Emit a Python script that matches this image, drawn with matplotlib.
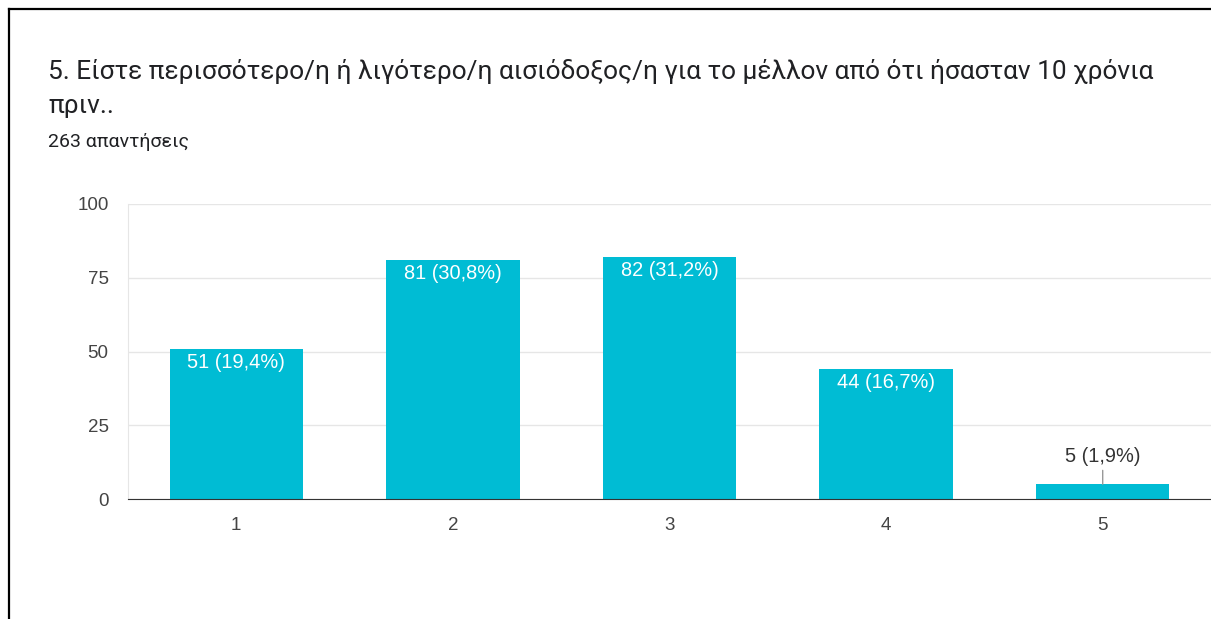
import matplotlib.pyplot as plt
from matplotlib.lines import Line2D

# data
categories = [1, 2, 3, 4, 5]
counts = [51, 81, 82, 44, 5]
total = 263
title_lines = ["5. Είστε περισσότερο/η ή λιγότερο/η αισιόδοξος/η για το μέλλον από ότι ήσασταν 10 χρόνια",
               "πριν.."]
subtitle = f"{total} απαντήσεις"
yticks = [0, 25, 50, 75, 100]

bar_color = "#00bcd4"

W, H = 1211, 619
fig = plt.figure(figsize=(W / 100, H / 100), dpi=100)
fig.patch.set_facecolor("white")

# screenshot frame (left and top edges)
fig.add_artist(Line2D([9 / W, 9 / W], [0, 1 - 9 / H], color="black", lw=1.6,
                      transform=fig.transFigure))
fig.add_artist(Line2D([9 / W, 1], [1 - 9 / H, 1 - 9 / H], color="black", lw=1.6,
                      transform=fig.transFigure))

fig.text(48 / W, 1 - 71 / H, title_lines[0], fontsize=18.9, family=["Roboto", "DejaVu Sans"],
         color="#202124", va="center", ha="left")
fig.text(48 / W, 1 - 106 / H, title_lines[1], fontsize=18.9, family=["Roboto", "DejaVu Sans"],
         color="#202124", va="center", ha="left")
fig.text(48 / W, 1 - 142 / H, subtitle, fontsize=14, family=["Roboto", "DejaVu Sans"],
         color="#202124", va="center", ha="left")

ax = fig.add_axes([128 / W, 120 / H, 1 - 128 / W, 295 / H])
ax.bar(categories, counts, width=0.615, color=bar_color, zorder=3)

ax.set_xlim(0.5, 5.5)
ax.set_ylim(0, 100)
ax.set_yticks(yticks)
ax.set_xticks(categories)
ax.grid(axis="y", color="#e6e6e6", lw=1, zorder=0)
for s in ["top", "right"]:
    ax.spines[s].set_visible(False)
ax.spines["left"].set_color("#e6e6e6")
ax.spines["bottom"].set_color("#333333")
ax.spines["bottom"].set_zorder(4)
ax.tick_params(length=0, labelsize=13.5, colors="#444444")
ax.tick_params(axis="y", pad=14)
ax.tick_params(axis="x", pad=13)
for lbl in ax.get_xticklabels() + ax.get_yticklabels():
    lbl.set_family("Liberation Sans")

for x, v in zip(categories, counts):
    pct = f"{v / total * 100:.1f}".replace(".", ",")
    txt = f"{v} ({pct}%)"
    if v > 15:
        ax.annotate(txt, (x, v), xytext=(0, -3), textcoords="offset points",
                    ha="center", va="top", color="white", fontsize=14.4,
                    family="Liberation Sans", zorder=5)
    else:
        ax.annotate(txt, (x, v), xytext=(0, 13), textcoords="offset points",
                    ha="center", va="bottom", color="#333333", fontsize=14.4,
                    family="Liberation Sans", zorder=5,
                    arrowprops=dict(arrowstyle="-", color="#999999", lw=1,
                                    shrinkA=1, shrinkB=0))

fig.savefig("out.png", dpi=100)
